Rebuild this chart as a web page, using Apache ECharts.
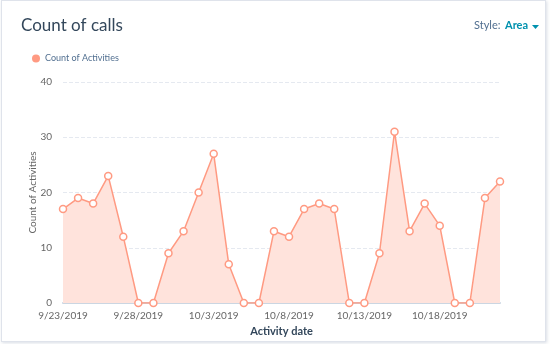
<!DOCTYPE html>
<html><head><meta charset="utf-8">
<script src="https://cdn.jsdelivr.net/npm/echarts@6/dist/echarts.min.js"></script>
<style>
html,body{margin:0;padding:0;background:#fff;}
#frame{position:absolute;left:1px;top:0px;width:543px;height:340px;border:1px solid #dfe3eb;box-shadow:1px 1px 3px rgba(180,190,205,0.5);background:#fff;}
#chart{position:absolute;left:0;top:0;width:550px;height:344px;}
</style>
</head><body>
<div id="frame"></div>
<div id="chart"></div>
<script>
const categories = ['9/23/2019','9/24/2019','9/25/2019','9/26/2019','9/27/2019','9/28/2019','9/29/2019','9/30/2019','10/1/2019','10/2/2019','10/3/2019','10/4/2019','10/5/2019','10/6/2019','10/7/2019','10/8/2019','10/9/2019','10/10/2019','10/11/2019','10/12/2019','10/13/2019','10/14/2019','10/15/2019','10/16/2019','10/17/2019','10/18/2019','10/19/2019','10/20/2019','10/21/2019','10/22/2019'];
const counts = [17,19,18,23,12,0,0,9,13,20,27,7,0,0,13,12,17,18,17,0,0,9,31,13,18,14,0,0,19,22];
const yTicks = [0,10,20,30,40];

const chart = echarts.init(document.getElementById('chart'), null, {renderer:'canvas'});
const font = 'Lato, "Open Sans", sans-serif';
chart.setOption({
  animation:false,
  textStyle:{fontFamily:font},
  title:{text:'Count of calls', left:16, top:12, textStyle:{fontSize:17, fontWeight:'normal', color:'#33475b', fontFamily:font}},
  graphic:[
    {type:'text', left:474, top:20, style:{text:'Style:', fontSize:11, fill:'#516f90', fontFamily:font}},
    {type:'text', left:505, top:20, style:{text:'Area', fontSize:11, fontWeight:'bold', fill:'#0091ae', fontFamily:font}},
    {type:'polygon', shape:{points:[[532,25],[539,25],[535.5,29]]}, style:{fill:'#0091ae'}}
  ],
  legend:{left:27, top:49, itemWidth:8, itemHeight:8, itemGap:6, icon:'circle',
    textStyle:{fontSize:9, color:'#516f90', fontFamily:font},
    data:[{name:'Count of Activities', itemStyle:{color:'#ff9a82', borderWidth:0}}]},
  grid:{left:63, right:50, top:82, bottom:41, containLabel:false},
  xAxis:{type:'category', data:categories, boundaryGap:false,
    name:'Activity date', nameLocation:'middle', nameGap:23, nameMoveOverlap:false,
    nameTextStyle:{fontSize:11, fontWeight:'bold', color:'#33475b', fontFamily:font},
    axisLine:{lineStyle:{color:'#cbd6e2', width:2}},
    axisTick:{show:true, inside:true, length:4, interval:4, lineStyle:{color:'#b0bccb'}},
    axisLabel:{interval:4, fontSize:10, color:'#666', margin:8, fontFamily:font},
    splitLine:{show:false}},
  yAxis:{type:'value', min:yTicks[0], max:yTicks[yTicks.length-1], interval:10,
    name:'Count of Activities', nameLocation:'middle', nameGap:25, nameMoveOverlap:false,
    nameTextStyle:{fontSize:10, color:'#666', fontFamily:font},
    axisLine:{show:false}, axisTick:{show:false},
    axisLabel:{fontSize:10, color:'#666', margin:11, fontFamily:font},
    splitLine:{lineStyle:{color:'#e5e9f0', type:'dashed'}}},
  series:[{name:'Count of Activities', type:'line', data:counts,
    symbol:'circle', symbolSize:7, showAllSymbol:true,
    itemStyle:{color:'#fff', borderColor:'#ff9a82', borderWidth:1.5},
    lineStyle:{color:'#ff9a82', width:1.5},
    areaStyle:{color:'#ffe3dc', opacity:1}
  }],
  color:['#ff9a82']
});
</script>
</body></html>
